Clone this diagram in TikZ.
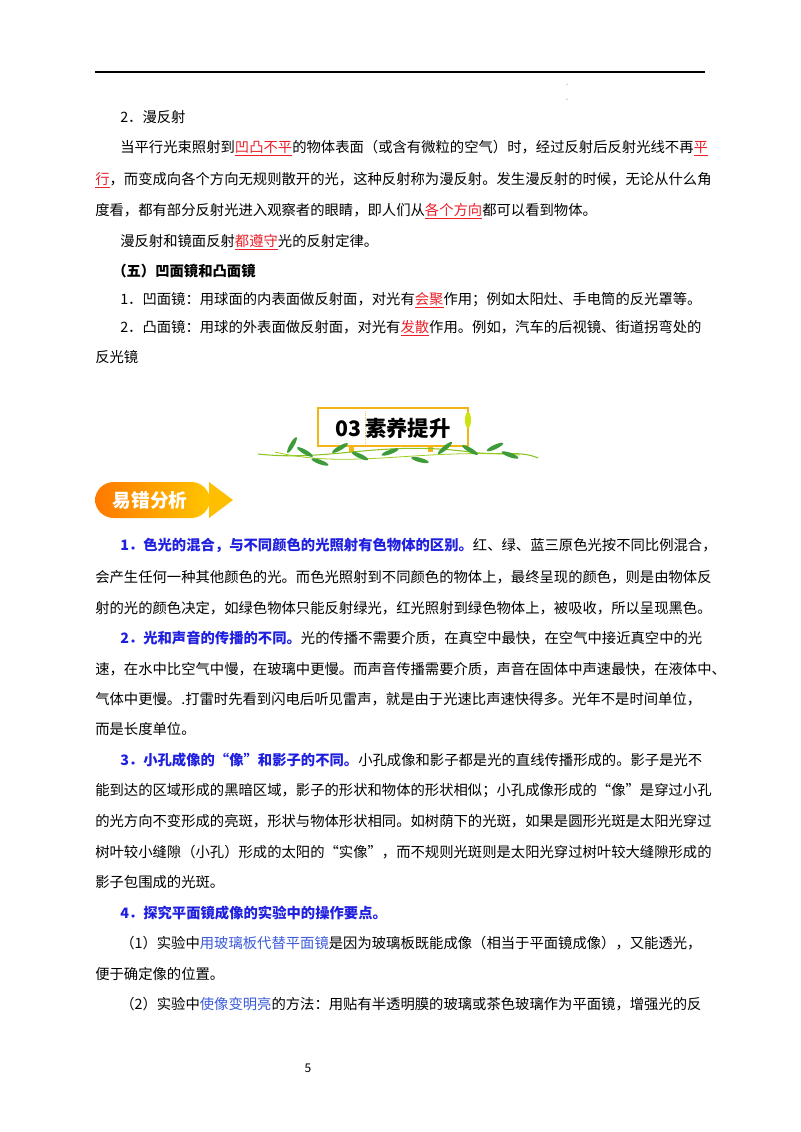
\documentclass[tikz,border=0pt]{standalone}
\usepackage{fontspec}
\setmainfont{Noto Sans CJK SC}
\usepackage{xcolor}
\definecolor{hlred}{HTML}{E8202A}
\definecolor{hlblue}{HTML}{1F1FE0}
\definecolor{lblue}{HTML}{3B5BD9}
\definecolor{gold}{HTML}{F2B416}
\definecolor{leaf}{HTML}{3E9B3A}
\newcommand\ru[1]{\textcolor{hlred}{\underline{#1}}}
\newcommand\bb[1]{\textcolor{hlblue}{\bfseries #1}}
\newcommand\lb[1]{\textcolor{lblue}{#1}}
\begin{document}
\begin{tikzpicture}[x=0.75pt,y=-0.75pt,
  t/.style={anchor=west,inner sep=0pt,font=\fontsize{10.75pt}{13pt}\selectfont},
  lf/.style={fill=leaf,draw=none}]
\useasboundingbox (0,0) rectangle (800,1132);
\draw[line width=0.9pt] (95,72) -- (705,72);
\node[font=\tiny,text=gray] (m1) at (567,85) {-};
\node[font=\tiny,text=gray] (m2) at (567,100) {-};
\node[t] (l1) at (120,117) {2．漫反射};
\node[t] (l2) at (120,148) {当平行光束照射到\ru{凹凸不平}的物体表面（或含有微粒的空气）时，经过反射后反射光线不再\ru{平}};
\node[t] (l3) at (95,180) {\ru{行}，而变成向各个方向无规则散开的光，这种反射称为漫反射。发生漫反射的时候，无论从什么角};
\node[t] (l4) at (95,211) {度看，都有部分反射光进入观察者的眼睛，即人们从\ru{各个方向}都可以看到物体。};
\node[t] (l5) at (120,242) {漫反射和镜面反射\ru{都遵守}光的反射定律。};
\node[t,font=\fontsize{10.75pt}{13pt}\selectfont\bfseries] (l6) at (112,271) {（五）凹面镜和凸面镜};
\node[t] (l7) at (120,300) {1．凹面镜：用球面的内表面做反射面，对光有\ru{会聚}作用；例如太阳灶、手电筒的反光罩等。};
\node[t] (l8) at (120,328) {2．凸面镜：用球的外表面做反射面，对光有\ru{发散}作用。例如，汽车的后视镜、街道拐弯处的};
\node[t] (l9) at (95,357) {反光镜};
% banner
\draw[gold,line width=2.2pt,fill=white] (318,408) rectangle (468,446);
\fill[gold] (349,446) rectangle (354,452);
\fill[gold] (428,446) rectangle (433,452);
\draw[gold!70,densely dotted] (365,411) -- (365,443);
\node[font=\fontsize{16pt}{18pt}\selectfont\bfseries] (ban) at (393,428) {03\,素养提升};
\draw[leaf!60!yellow,line width=0.8pt] (258,454) .. controls (330,462) and (380,440) .. (470,452) .. controls (500,456) and (520,450) .. (538,458);
\draw[leaf!50!yellow,line width=0.6pt] (275,452) .. controls (350,470) and (420,448) .. (520,455);
\foreach \x/\y/\a in {292/445/60,305/452/-30,320/462/-20,340/448/30,360/456/-25,390/452/20,420/460/-15,445/448/40,470/450/-30,495/447/25,510/455/-20}
  \fill[leaf,rotate around={\a:(\x,\y)}] (\x,\y) ellipse (9 and 2.2);
\fill[yellow!80!green] (468,420) ellipse (3 and 8);
% orange label
\shade[left color=orange!95!red,right color=orange!45!yellow,rounded corners=14pt] (95,482) -- (210,482) -- (210,518) -- (95,518) -- cycle;
\fill[orange!50!yellow] (209,482) -- (233,500) -- (209,518) -- cycle;
\node[font=\fontsize{14pt}{16pt}\selectfont\bfseries,text=white] (yc) at (150,500) {易错分析};
% body
\node[t] (a1) at (120,545) {\bb{1．色光的混合，与不同颜色的光照射有色物体的区别。}红、绿、蓝三原色光按不同比例混合，};
\node[t] (a2) at (95,577) {会产生任何一种其他颜色的光。而色光照射到不同颜色的物体上，最终呈现的颜色，则是由物体反};
\node[t] (a3) at (95,608) {射的光的颜色决定，如绿色物体只能反射绿光，红光照射到绿色物体上，被吸收，所以呈现黑色。};
\node[t] (b1) at (120,638) {\bb{2．光和声音的传播的不同。}光的传播不需要介质，在真空中最快，在空气中接近真空中的光};
\node[t] (b2) at (95,669) {速，在水中比空气中慢，在玻璃中更慢。而声音传播需要介质，声音在固体中声速最快，在液体中、};
\node[t] (b3) at (95,699) {气体中更慢。.打雷时先看到闪电后听见雷声，就是由于光速比声速快得多。光年不是时间单位，};
\node[t] (b4) at (95,729) {而是长度单位。};
\node[t] (c1) at (120,760) {\bb{3．小孔成像的“像”和影子的不同。}小孔成像和影子都是光的直线传播形成的。影子是光不};
\node[t] (c2) at (95,791) {能到达的区域形成的黑暗区域，影子的形状和物体的形状相似；小孔成像形成的“像”是穿过小孔};
\node[t] (c3) at (95,821) {的光方向不变形成的亮斑，形状与物体形状相同。如树荫下的光斑，如果是圆形光斑是太阳光穿过};
\node[t] (c4) at (95,852) {树叶较小缝隙（小孔）形成的太阳的“实像”，而不规则光斑则是太阳光穿过树叶较大缝隙形成的};
\node[t] (c5) at (95,882) {影子包围成的光斑。};
\node[t] (d1) at (120,913) {\bb{4．探究平面镜成像的实验中的操作要点。}};
\node[t] (d2) at (120,943) {（1）实验中\lb{用玻璃板代替平面镜}是因为玻璃板既能成像（相当于平面镜成像），又能透光，};
\node[t] (d3) at (95,974) {便于确定像的位置。};
\node[t] (d4) at (120,1004) {（2）实验中\lb{使像变明亮}的方法：用贴有半透明膜的玻璃或茶色玻璃作为平面镜，增强光的反};
\node[font=\fontsize{9pt}{10pt}\selectfont] (pg) at (308,1068) {5};
\end{tikzpicture}
\end{document}
